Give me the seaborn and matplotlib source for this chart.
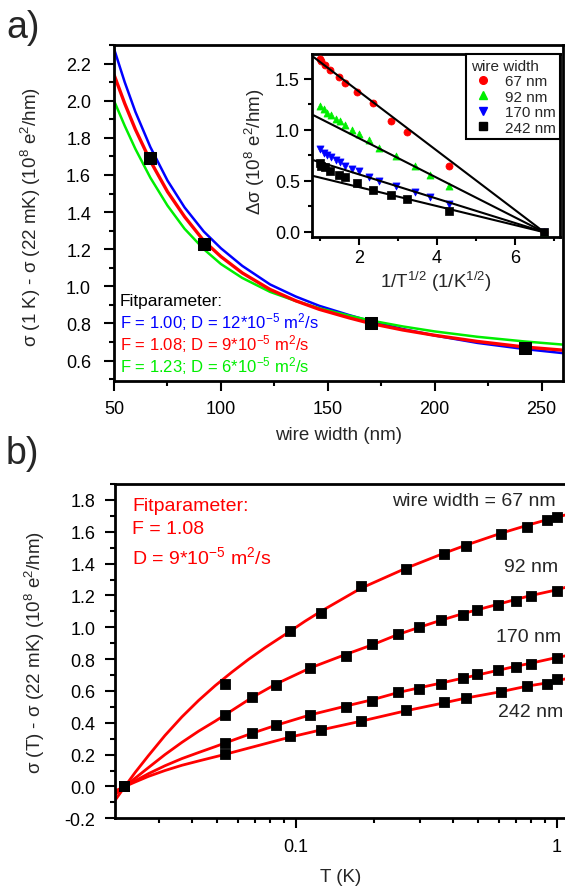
import numpy as np
import pandas as pd
import matplotlib
matplotlib.use('Agg')
import matplotlib.pyplot as plt
from matplotlib.ticker import MultipleLocator, LogLocator, FixedLocator, NullFormatter
from matplotlib.lines import Line2D
import seaborn as sns

# ── DATA ────────────────────────────────────────────────────
# panel a: sigma(1 K) - sigma(22 mK) vs wire width
widths = [67, 92, 170, 242]
dsig_1K = [1.69, 1.23, 0.80, 0.67]

# fit curves
fit_w = [50, 55, 60, 67, 75, 83, 92, 100, 110, 123, 135, 146, 160, 170, 185, 200, 220, 242, 260]
fit_blue = [2.28, 2.10, 1.94, 1.75, 1.57, 1.425, 1.295, 1.205, 1.11, 1.01, 0.945, 0.895,
            0.845, 0.812, 0.77, 0.735, 0.695, 0.662, 0.64]
fit_red = [2.14, 1.985, 1.845, 1.675, 1.51, 1.375, 1.245, 1.16, 1.072, 0.983, 0.922, 0.876,
           0.83, 0.80, 0.765, 0.736, 0.703, 0.673, 0.656]
fit_green = [2.00, 1.865, 1.74, 1.585, 1.435, 1.31, 1.20, 1.12, 1.045, 0.97, 0.921, 0.882,
             0.842, 0.816, 0.784, 0.757, 0.728, 0.703, 0.686]

# panel b: sigma(T) - sigma(22 mK) vs T
T_a = [0.022, 0.0535, 0.0953, 0.125, 0.178, 0.264, 0.370, 0.448, 0.610, 0.770, 0.915, 1.0]
T_b = [0.022, 0.0535, 0.0683, 0.0845, 0.114, 0.156, 0.197, 0.247, 0.298, 0.362, 0.436,
       0.497, 0.598, 0.698, 0.800, 1.0]
sig_67 = [0, 0.646, 0.975, 1.087, 1.259, 1.364, 1.46, 1.512, 1.584, 1.632, 1.674, 1.69]
sig_242 = [0, 0.201, 0.317, 0.357, 0.413, 0.478, 0.531, 0.558, 0.594, 0.631, 0.646, 0.673]
sig_92 = [0, 0.451, 0.560, 0.640, 0.741, 0.820, 0.894, 0.955, 0.999, 1.043, 1.080, 1.108,
          1.143, 1.166, 1.198, 1.227]
sig_170 = [0, 0.273, 0.338, 0.386, 0.447, 0.501, 0.539, 0.594, 0.615, 0.644, 0.682, 0.705,
           0.734, 0.753, 0.772, 0.810]

# fit curves
fitT_67 = [0.0204, 0.0222, 0.0243, 0.0273, 0.0316, 0.0367, 0.0425, 0.0492, 0.057, 0.066,
           0.0764, 0.0953, 0.1087, 0.125, 0.178, 0.264, 0.37, 0.448, 0.61, 0.77, 0.915,
           1.0, 1.076]
fit_67 = [-0.085, 0, 0.088, 0.193, 0.32, 0.437, 0.54, 0.633, 0.718, 0.798, 0.872, 0.975,
          1.038, 1.10, 1.245, 1.37, 1.465, 1.515, 1.59, 1.64, 1.675, 1.69, 1.705]
fitT_lo = [0.0204, 0.0222, 0.0243, 0.0273, 0.0316, 0.0367, 0.0425, 0.0492, 0.0535]
fitT_92 = fitT_lo + [0.0683, 0.0845, 0.114, 0.156, 0.197, 0.247, 0.298, 0.362, 0.436,
                     0.497, 0.598, 0.698, 0.80, 1.0, 1.076]
fit_92 = [-0.05, 0, 0.052, 0.118, 0.20, 0.277, 0.347, 0.41, 0.448, 0.56, 0.645, 0.745,
          0.83, 0.89, 0.955, 1.0, 1.045, 1.085, 1.11, 1.145, 1.175, 1.20, 1.235, 1.25]
fit_170 = [-0.035, 0, 0.035, 0.08, 0.13, 0.175, 0.213, 0.25, 0.272, 0.335, 0.385, 0.45,
           0.505, 0.545, 0.59, 0.62, 0.65, 0.68, 0.70, 0.73, 0.755, 0.775, 0.81, 0.82]
fitT_242 = fitT_lo + [0.0953, 0.125, 0.178, 0.264, 0.37, 0.448, 0.61, 0.77, 0.915, 1.0,
                      1.076]
fit_242 = [-0.028, 0, 0.028, 0.063, 0.10, 0.133, 0.16, 0.186, 0.201, 0.31, 0.355, 0.41,
           0.475, 0.525, 0.555, 0.595, 0.63, 0.65, 0.665, 0.675]

# inset linear fits (end points in 1/T^1/2)
inset_fit_x = [0.85, 6.8]
inset_fit = {'67 nm': [1.71, -0.02], '92 nm': [1.14, -0.015],
             '170 nm': [0.70, -0.01], '242 nm': [0.545, -0.01]}

RED, GREEN, BLUE = '#FF0000', '#00EE00', '#0000FF'

# ── STYLE ───────────────────────────────────────────────────
sns.set_theme(style='ticks')
plt.rcParams['font.family'] = ['Liberation Sans', 'DejaVu Sans']
plt.rcParams['mathtext.fontset'] = 'custom'
plt.rcParams['mathtext.rm'] = 'Liberation Sans'
plt.rcParams['mathtext.it'] = 'Liberation Sans:italic'
plt.rcParams['axes.linewidth'] = 2
for ax_ in ('xtick', 'ytick'):
    plt.rcParams[f'{ax_}.major.width'] = 1.5
    plt.rcParams[f'{ax_}.minor.width'] = 1.5
    plt.rcParams[f'{ax_}.major.size'] = 7.5
    plt.rcParams[f'{ax_}.minor.size'] = 3.8
    plt.rcParams[f'{ax_}.color'] = 'black'
plt.rcParams['axes.edgecolor'] = 'black'

W, H = 565, 895
fig = plt.figure(figsize=(W / 100, H / 100), dpi=100)

# ── PANEL A ─────────────────────────────────────────────────
ax1 = fig.add_axes([0.2018, 0.5732, 0.7947, 0.3754])
sns.lineplot(x=fit_w, y=fit_blue, ax=ax1, color=BLUE, lw=1.8, sort=False, estimator=None)
sns.lineplot(x=fit_w, y=fit_green, ax=ax1, color=GREEN, lw=1.8, sort=False, estimator=None)
sns.lineplot(x=fit_w, y=fit_red, ax=ax1, color=RED, lw=2.4, sort=False, estimator=None)
sns.scatterplot(x=widths, y=dsig_1K, ax=ax1, marker='s', s=85, color='black',
                edgecolor='black', zorder=5)
ax1.set_xlim(50, 260)
ax1.set_ylim(0.49, 2.3)
ax1.xaxis.set_major_locator(MultipleLocator(50))
ax1.xaxis.set_minor_locator(MultipleLocator(25))
ax1.yaxis.set_major_locator(FixedLocator(np.arange(0.6, 2.21, 0.2)))
ax1.yaxis.set_minor_locator(MultipleLocator(0.1))
ax1.set_yticklabels([f'{v:.1f}' for v in np.arange(0.6, 2.21, 0.2)])
ax1.tick_params(axis='y', labelsize=13, pad=9)
ax1.tick_params(axis='x', labelsize=13, pad=6)
ax1.set_xlabel('wire width (nm)', fontsize=13.5)
ax1.set_ylabel(r'σ (1 K) - σ (22 mK) (10$^8$ e$^2$/hm)', fontsize=13.5)
ax1.xaxis.set_label_coords(0.5, -0.135)
ax1.yaxis.set_label_coords(-0.158, 0.49)

fig.text(120 / W, 1 - 301.7 / H, 'Fitparameter:', fontsize=12.5, color='black', va='center')
fig.text(120 / W, 1 - 321.7 / H, r'F = 1.00; D = 12*10$^{-5}$ m$^2$/s', fontsize=12,
         color=BLUE, va='center')
fig.text(120 / W, 1 - 344 / H, r'F = 1.08; D = 9*10$^{-5}$ m$^2$/s', fontsize=12,
         color=RED, va='center')
fig.text(120 / W, 1 - 366 / H, r'F = 1.23; D = 6*10$^{-5}$ m$^2$/s', fontsize=12,
         color=GREEN, va='center')
fig.text(6 / W, 1 - 10 / H, 'a)', fontsize=27, va='top')

# ── INSET ───────────────────────────────────────────────────
ax2 = fig.add_axes([0.5517, 0.7337, 0.4395, 0.2048])
series = [('67 nm', T_a, sig_67, RED, 'o'),
          ('92 nm', T_b, sig_92, GREEN, '^'),
          ('170 nm', T_b, sig_170, BLUE, 'v'),
          ('242 nm', T_a, sig_242, 'black', 's')]
for name, T, sig, col, mk in series:
    inv = 1 / np.sqrt(np.array(T))
    sns.scatterplot(x=inv, y=sig, ax=ax2, marker=mk, s=26, color=col, edgecolor=col,
                    linewidth=0.5, zorder=4)
for name, vals in inset_fit.items():
    sns.lineplot(x=inset_fit_x, y=vals, ax=ax2, color='black', lw=1.5, sort=False,
                 estimator=None, zorder=5)
ax2.set_xlim(0.8, 7.15)
ax2.set_ylim(-0.055, 1.74)
ax2.xaxis.set_major_locator(FixedLocator([2, 4, 6]))
ax2.xaxis.set_minor_locator(FixedLocator([1, 3, 5, 7]))
ax2.yaxis.set_major_locator(FixedLocator([0, 0.5, 1.0, 1.5]))
ax2.yaxis.set_minor_locator(MultipleLocator(0.25))
ax2.set_yticklabels(['0.0', '0.5', '1.0', '1.5'])
ax2.tick_params(axis='both', which='major', size=6)
ax2.tick_params(axis='both', which='minor', size=3)
ax2.tick_params(labelsize=13, pad=2.5)
ax2.set_xlabel(r'1/T$^{1/2}$ (1/K$^{1/2}$)', fontsize=13.5)
ax2.set_ylabel(r'Δσ (10$^8$ e$^2$/hm)', fontsize=13.5)
ax2.xaxis.set_label_coords(0.5, -0.17)
ax2.yaxis.set_label_coords(-0.18, 0.47)
handles = [Line2D([], [], ls='', marker=mk, color=col, markersize=5.5)
           for _, _, _, col, mk in series]
leg = ax2.legend(handles, [s[0] for s in series], title='wire width', loc='upper right',
                 fontsize=11, title_fontsize=11, frameon=True, fancybox=False,
                 borderaxespad=0, handletextpad=0.6, labelspacing=0.1, borderpad=0.3,
                 handlelength=1.6, framealpha=1)
leg.get_frame().set_edgecolor('black')
leg.get_frame().set_linewidth(1.5)
leg._legend_box.align = 'left'

# ── PANEL B ─────────────────────────────────────────────────
ax3 = fig.add_axes([0.2041, 0.0846, 0.7959, 0.3735])
fits_b = [(fitT_67, fit_67), (fitT_92, fit_92), (fitT_92, fit_170), (fitT_242, fit_242)]
for Tf, yf in fits_b:
    sns.lineplot(x=Tf, y=yf, ax=ax3, color=RED, lw=2, sort=False, estimator=None)
for T, sig in [(T_a, sig_67), (T_b, sig_92), (T_b, sig_170), (T_a, sig_242)]:
    sns.scatterplot(x=T, y=sig, ax=ax3, marker='s', s=52, color='black',
                    edgecolor='black', zorder=5)
ax3.set_xscale('log')
ax3.set_xlim(0.0204, 1.076)
ax3.set_ylim(-0.2, 1.9)
ax3.spines['right'].set_visible(False)
ax3.xaxis.set_major_locator(FixedLocator([0.1, 1]))
ax3.set_xticklabels(['0.1', '1'])
ax3.xaxis.set_minor_locator(LogLocator(base=10, subs=np.arange(2, 10)))
ax3.xaxis.set_minor_formatter(NullFormatter())
ax3.yaxis.set_major_locator(FixedLocator(np.arange(-0.2, 1.81, 0.2)))
ax3.set_yticklabels([f'{v:.1f}' for v in np.arange(-0.2, 1.81, 0.2)])
ax3.yaxis.set_minor_locator(MultipleLocator(0.1))
ax3.tick_params(axis='y', labelsize=13, pad=7)
ax3.tick_params(axis='x', labelsize=13, pad=7)
ax3.set_xlabel('T (K)', fontsize=13.5)
ax3.set_ylabel(r'σ (T) - σ (22 mK) (10$^8$ e$^2$/hm)', fontsize=13.5)
ax3.xaxis.set_label_coords(0.5, -0.15)
ax3.yaxis.set_label_coords(-0.152, 0.5)

fig.text(132 / W, 1 - 506.7 / H, 'Fitparameter:', fontsize=14, color=RED, va='center')
fig.text(132 / W, 1 - 530 / H, 'F = 1.08', fontsize=14, color=RED, va='center')
fig.text(132 / W, 1 - 557 / H, r'D = 9*10$^{-5}$ m$^2$/s', fontsize=14, color=RED,
         va='center')
fig.text(556 / W, 1 - 502 / H, 'wire width = 67 nm', ha='right', va='center', fontsize=14)
fig.text(558 / W, 1 - 568 / H, '92 nm', ha='right', va='center', fontsize=14)
fig.text(561 / W, 1 - 638 / H, '170 nm', ha='right', va='center', fontsize=14)
fig.text(563 / W, 1 - 713 / H, '242 nm', ha='right', va='center', fontsize=14)
fig.text(6 / W, 1 - 436 / H, 'b)', fontsize=27, va='top')

plt.savefig('out.png', dpi=100)
